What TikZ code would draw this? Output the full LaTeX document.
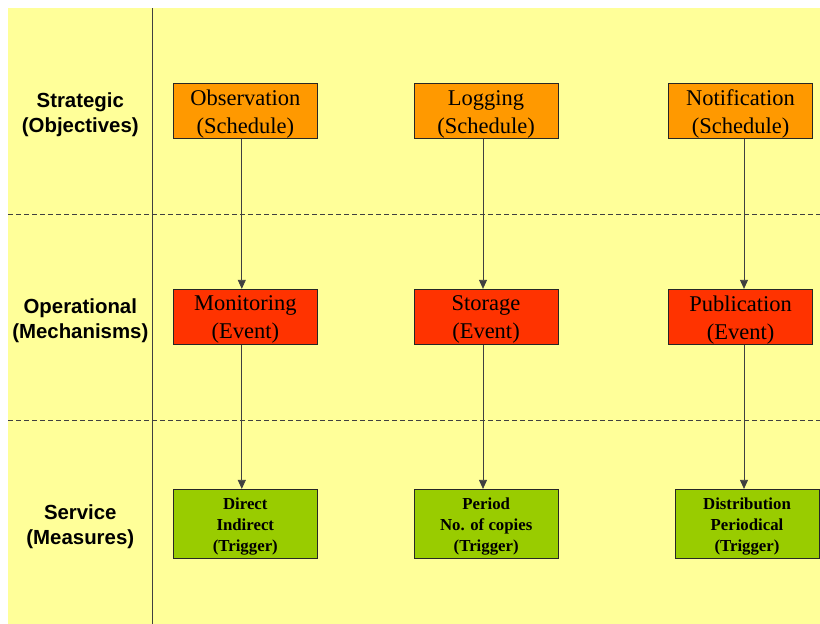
\documentclass[tikz,border=0pt]{standalone}
\usepackage{fontspec}
\setmainfont{Liberation Serif}
\setsansfont{Liberation Sans}
\usetikzlibrary{arrows.meta}
\definecolor{bgyellow}{HTML}{FFFF99}
\definecolor{orangebox}{HTML}{FF9900}
\definecolor{redbox}{HTML}{FF3300}
\definecolor{greenbox}{HTML}{99CC00}
\definecolor{linegray}{HTML}{404040}
\tikzset{
  box/.style={draw=black!85, line width=0.9pt, minimum width=144pt, inner sep=0pt},
  objbox/.style={box, fill=orangebox, minimum height=55.4pt},
  mechbox/.style={box, fill=redbox, minimum height=55pt},
  measbox/.style={box, fill=greenbox, minimum height=68.7pt},
  bigtext/.style={align=center, inner sep=0pt, font=\fontsize{22.5}{28}\selectfont},
  smalltext/.style={align=center, inner sep=0pt, font=\fontsize{16.8}{21}\selectfont\bfseries},
  lanelabel/.style={align=center, font=\sffamily\bfseries\fontsize{20.4}{25}\selectfont},
  conn/.style={draw=linegray, line width=0.8pt, -{Triangle[length=9pt,width=8pt]}},
  sep/.style={draw=linegray, line width=0.9pt, dash pattern=on 5pt off 3pt}
}
\begin{document}
\begin{tikzpicture}[x=1pt,y=-1pt]
\useasboundingbox (0,0) rectangle (820,624);
\fill[bgyellow] (8,8) rectangle (820,624);
% lane separators
\coordinate (s1l) at (8,214.3);
\coordinate (s1r) at (820,214.3);
\coordinate (s2l) at (8,420.3);
\coordinate (s2r) at (820,420.3);
\draw[sep] (s1l) -- (s1r);
\draw[sep] (s2l) -- (s2r);
\coordinate (vt) at (152.7,8);
\coordinate (vb) at (152.7,624);
\draw[draw=linegray, line width=1.3pt] (vt) -- (vb);
% lane labels
\node[lanelabel] (l1) at (80.3,114.5) {Strategic\\(Objectives)};
\node[lanelabel] (l2) at (80.3,320.5) {Operational\\(Mechanisms)};
\node[lanelabel] (l3) at (80.3,526.5) {Service\\(Measures)};
% boxes
\node[objbox] (o1) at (245.3,111) {};
\node[objbox] (o2) at (486,111) {};
\node[objbox] (o3) at (740.5,111) {};
\node[mechbox] (m1) at (245.3,316.8) {};
\node[mechbox] (m2) at (486,316.8) {};
\node[mechbox] (m3) at (740.5,316.8) {};
\node[measbox] (g1) at (245.3,523.7) {};
\node[measbox] (g2) at (486.2,523.7) {};
\node[measbox] (g3) at (747,523.7) {};
% box texts
\node[bigtext] (o1t) at ([yshift=-3pt]o1.center) {Observation\\(Schedule)};
\node[bigtext] (o2t) at ([yshift=-3pt]o2.center) {Logging\\(Schedule)};
\node[bigtext] (o3t) at ([yshift=-3pt]o3.center) {Notification\\(Schedule)};
\node[bigtext] (m1t) at ([yshift=-3pt]m1.center) {Monitoring\\(Event)};
\node[bigtext] (m2t) at ([yshift=-3pt]m2.center) {Storage\\(Event)};
\node[bigtext] (m3t) at ([yshift=-3pt]m3.center) {Publication\\(Event)};
\node[smalltext] (g1t) at ([yshift=-2.5pt]g1.center) {Direct\\Indirect\\(Trigger)};
\node[smalltext] (g2t) at ([yshift=-2.5pt]g2.center) {Period\\No. of copies\\(Trigger)};
\node[smalltext] (g3t) at ([yshift=-2.5pt]g3.center) {Distribution\\Periodical\\(Trigger)};
% connectors
\draw[conn] ([xshift=-3.5pt]o1.south) -- ([xshift=-3.5pt]m1.north);
\draw[conn] ([xshift=-3pt]o2.south) -- ([xshift=-3pt]m2.north);
\draw[conn] ([xshift=3.5pt]o3.south) -- ([xshift=3.5pt]m3.north);
\draw[conn] ([xshift=-3.5pt]m1.south) -- ([xshift=-3.5pt]m1.south |- g1.north);
\draw[conn] ([xshift=-3pt]m2.south) -- ([xshift=-3pt]m2.south |- g2.north);
\draw[conn] ([xshift=3.5pt]m3.south) -- ([xshift=3.5pt]m3.south |- g3.north);
\end{tikzpicture}
\end{document}
